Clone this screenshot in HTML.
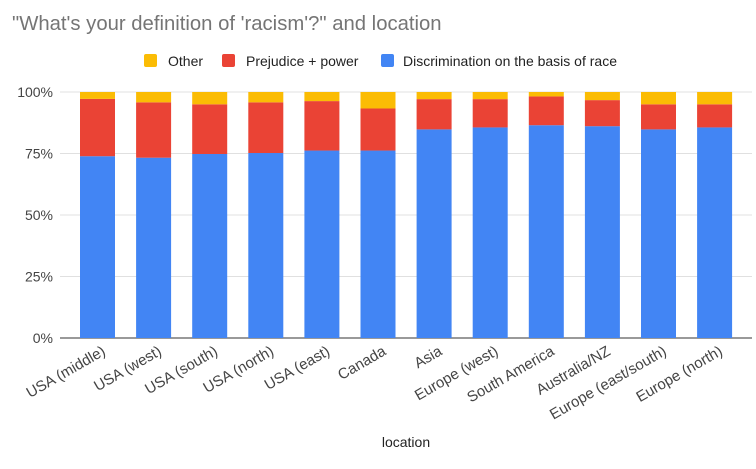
<!DOCTYPE html>
<html><head><meta charset="utf-8"><style>
body{margin:0;background:#fff;font-family:"Liberation Sans",Arial,sans-serif}
</style></head><body>
<svg id="chart" width="756" height="464" xmlns="http://www.w3.org/2000/svg">
<text x="12" y="30" font-size="20.3" fill="#757575">"What's your definition of 'racism'?" and location</text>
<g font-size="14" fill="#222">
<g><rect x="144" y="54" width="13" height="13" rx="2" fill="#fbbc04"/><text x="168" y="66">Other</text></g>
<g><rect x="222" y="54" width="13" height="13" rx="2" fill="#ea4335"/><text x="246" y="66">Prejudice + power</text></g>
<g><rect x="381" y="54" width="13" height="13" rx="2" fill="#4285f4"/><text x="403" y="66">Discrimination on the basis of race</text></g>
</g>
<g id="grid"></g><g id="bars"></g><g id="xlabels"></g>
<text x="406" y="447" font-size="14" fill="#222" text-anchor="middle">location</text>
</svg>
<script>
const categories=["USA (middle)","USA (west)","USA (south)","USA (north)","USA (east)","Canada","Asia","Europe (west)","South America","Australia/NZ","Europe (east/south)","Europe (north)"];
const discrimination=[73.9,73.3,74.8,75.2,76.2,76.2,84.8,85.6,86.5,86.1,84.8,85.6];
const prejudice=[23.3,22.5,20.2,20.6,20.1,17.1,12.3,11.5,11.7,10.6,10.2,9.4];
const other=[2.8,4.2,5.0,4.2,3.7,6.7,2.9,2.9,1.8,3.3,5.0,5.0];
const yTicks=[0,25,50,75,100];
const ns="http://www.w3.org/2000/svg";
const y0=338,y100=92,x0=80,step=56.1,bw=35;
const y=v=>y0-(y0-y100)*v/100;
const x=i=>x0+i*step;
function mk(tag,attrs,parent){const e=document.createElementNS(ns,tag);for(const k in attrs)e.setAttribute(k,attrs[k]);parent.appendChild(e);return e;}
const grid=document.getElementById('grid');
yTicks.forEach(t=>{
  const l=mk('line',{x1:60,x2:752,y1:y(t),y2:y(t),stroke:t===0?'#333':'#e0e0e0','stroke-width':1},grid);
  
  
  const tx=mk('text',{x:53,y:y(t)+5,'font-size':14,fill:'#444','text-anchor':'end'},grid);
  tx.textContent=t+'%';
  
  
});
const bars=document.getElementById('bars'),xl=document.getElementById('xlabels');
categories.forEach((c,i)=>{
  const segs=[[discrimination[i],'#4285f4','discrimination'],[prejudice[i],'#ea4335','prejudice'],[other[i],'#fbbc04','other']];
  let cum=0;
  segs.forEach(s=>{
    const r=mk('rect',{x:x(i),y:y(cum+s[0]),width:bw,height:y(cum)-y(cum+s[0]),fill:s[1]},bars);
    
    
    cum+=s[0];
  });
  const cx=x(i)+bw/2+9;
  const t=mk('text',{x:cx,y:354,'font-size':15,fill:'#444','text-anchor':'end',transform:`rotate(-30 ${cx} 354)`},xl);
  t.textContent=c;
  
  
});
</script>
</body></html>
